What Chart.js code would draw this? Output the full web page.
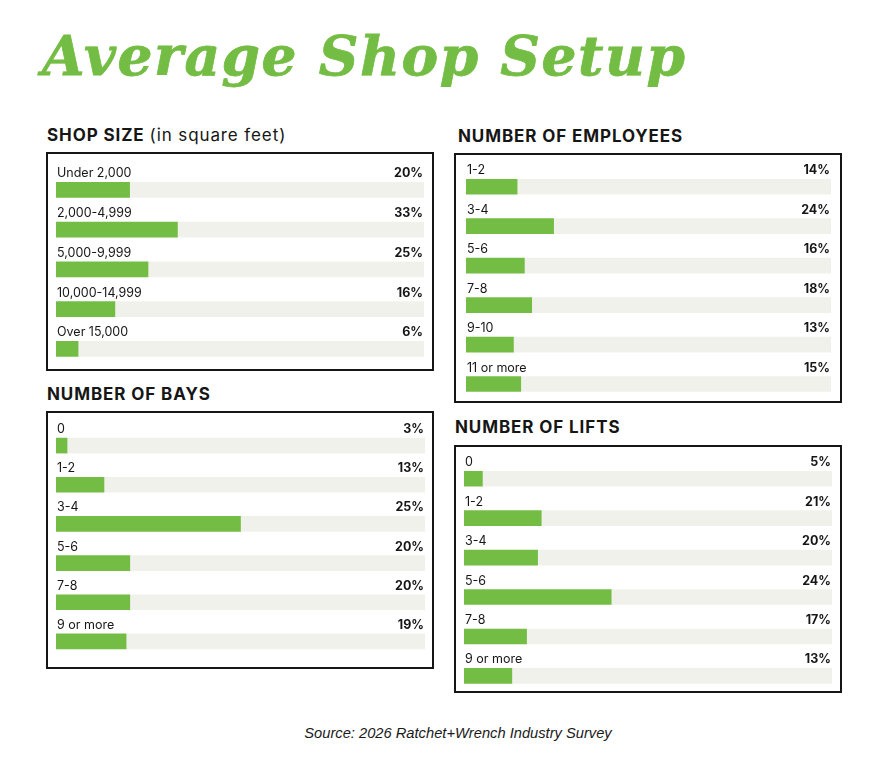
<!DOCTYPE html>
<html>
<head>
<meta charset="utf-8">
<script src="https://cdn.jsdelivr.net/npm/chart.js@4.4.1/dist/chart.umd.min.js"></script>
<style>
  html, body { margin: 0; padding: 0; background: #ffffff; }
  body { width: 894px; height: 780px; position: relative; overflow: hidden; }
  .title { position: absolute; left: 42px; top: 28px; font-family: "DejaVu Serif", serif; font-weight: bold; font-style: italic; font-size: 55px; line-height: 55px; color: #74bd44; white-space: nowrap; -webkit-text-stroke: 0.8px #74bd44; }
  .head { position: absolute; font-family: Inter, "Noto Sans", sans-serif; font-weight: 700; font-size: 17px; line-height: 17px; letter-spacing: 0.9px; color: #161616; white-space: nowrap; }
  .head span { font-weight: 400; }
  .box { position: absolute; border: 2px solid #161616; box-sizing: border-box; }
  canvas.panel { position: absolute; }
  .source { position: absolute; left: 0; width: 916px; text-align: center; top: 726px; font-family: "Liberation Sans", Arial, sans-serif; font-style: italic; font-size: 14.7px; line-height: 14px; color: #1a1a1a; }
</style>
</head>
<body>
<div class="title" id="title">Average Shop Setup</div>

<div class="head" style="left:47px; top:127px;">SHOP SIZE <span>(in square feet)</span></div>
<div class="head" style="left:458px; top:128px;">NUMBER OF EMPLOYEES</div>
<div class="head" style="left:47px; top:386px;">NUMBER OF BAYS</div>
<div class="head" style="left:455px; top:419px;">NUMBER OF LIFTS</div>

<div class="box" style="left:46px; top:152px; width:388px; height:219px;"></div>
<div class="box" style="left:454px; top:153px; width:388px; height:250px;"></div>
<div class="box" style="left:46px; top:411px; width:388px; height:258px;"></div>
<div class="box" style="left:454px; top:445px; width:388px; height:248px;"></div>

<canvas id="shop" class="panel"></canvas>
<canvas id="emp" class="panel"></canvas>
<canvas id="bays" class="panel"></canvas>
<canvas id="lifts" class="panel"></canvas>

<div class="source">Source: 2026 Ratchet+Wrench Industry Survey</div>

<script>
// ---- Data ----
const shopCategories = ['Under 2,000', '2,000-4,999', '5,000-9,999', '10,000-14,999', 'Over 15,000'];
const shopValues = [20, 33, 25, 16, 6];
const shopPctLabels = ['20%', '33%', '25%', '16%', '6%'];

const employeeCategories = ['1-2', '3-4', '5-6', '7-8', '9-10', '11 or more'];
const employeeValues = [14, 24, 16, 18, 13, 15];
const employeePctLabels = ['14%', '24%', '16%', '18%', '13%', '15%'];

const bayCategories = ['0', '1-2', '3-4', '5-6', '7-8', '9 or more'];
const bayBarValues = [3, 13, 50, 20, 20, 19];   // bar lengths as drawn
const bayPctLabels = ['3%', '13%', '25%', '20%', '20%', '19%'];

const liftCategories = ['0', '1-2', '3-4', '5-6', '7-8', '9 or more'];
const liftBarValues = [5, 21, 20, 40, 17, 13];  // bar lengths as drawn
const liftPctLabels = ['5%', '21%', '20%', '24%', '17%', '13%'];

// ---- Title width fit ----
(function () {
  const t = document.getElementById('title');
  const target = 643;
  const w = t.getBoundingClientRect().width;
  const n = t.textContent.length - 1;
  t.style.letterSpacing = ((target - w) / n) + 'px';
})();

// ---- Styling ----
const GREEN = '#74bd44';
const TRACK = '#f1f1ec';
const INK = '#161616';

const labelPlugin = {
  id: 'rowLabels',
  afterDatasetsDraw(chart) {
    const ctx = chart.ctx;
    const meta = chart.getDatasetMeta(0);
    const pct = chart.options.plugins.rowLabels.pct;
    const area = chart.chartArea;
    ctx.save();
    ctx.fillStyle = INK;
    ctx.textBaseline = 'alphabetic';
    meta.data.forEach((el, i) => {
      const top = el.y - el.height / 2;
      const yText = top - 5;
      ctx.font = '400 12.5px Inter, "Noto Sans", sans-serif';
      ctx.textAlign = 'left';
      ctx.fillText(chart.data.labels[i], area.left + 1, yText);
      ctx.font = '700 12.5px Inter, "Noto Sans", sans-serif';
      ctx.textAlign = 'right';
      ctx.fillText(pct[i], area.right - 1, yText);
    });
    ctx.restore();
  }
};

function makePanel(id, cats, vals, pct, geo) {
  const padTop = 22;
  const n = cats.length;
  const canvas = document.getElementById(id);
  const h = Math.round(padTop + n * geo.pitch);
  const w = geo.boxW;
  canvas.width = w; canvas.height = h;
  canvas.style.width = w + 'px'; canvas.style.height = h + 'px';
  canvas.style.left = geo.boxX + 'px';
  canvas.style.top = (geo.chartTop - padTop) + 'px';
  const track = vals.map(v => 100 - v);
  new Chart(canvas, {
    type: 'bar',
    data: {
      labels: cats,
      datasets: [
        { data: vals, backgroundColor: GREEN, barThickness: 15, borderWidth: 0 },
        { data: track, backgroundColor: TRACK, barThickness: 15, borderWidth: 0 }
      ]
    },
    options: {
      indexAxis: 'y',
      responsive: false,
      animation: false,
      devicePixelRatio: 1,
      layout: { padding: { top: padTop, bottom: h - padTop - n * geo.pitch, left: geo.trackL - geo.boxX, right: geo.boxX + geo.boxW - geo.trackR } },
      scales: {
        x: { stacked: true, min: 0, max: 100, display: false },
        y: { stacked: true, display: false }
      },
      plugins: { legend: { display: false }, tooltip: { enabled: false }, title: { display: false }, rowLabels: { pct: pct } }
    },
    plugins: [labelPlugin]
  });
}

makePanel('shop', shopCategories, shopValues, shopPctLabels,
  { boxX: 46, boxW: 388, trackL: 56, trackR: 424, chartTop: 169.6, pitch: 39.75 });
makePanel('emp', employeeCategories, employeeValues, employeePctLabels,
  { boxX: 454, boxW: 388, trackL: 466, trackR: 831, chartTop: 166.5, pitch: 39.46 });
makePanel('bays', bayCategories, bayBarValues, bayPctLabels,
  { boxX: 46, boxW: 388, trackL: 56, trackR: 425, chartTop: 425.9, pitch: 39.2 });
makePanel('lifts', liftCategories, liftBarValues, liftPctLabels,
  { boxX: 454, boxW: 388, trackL: 464, trackR: 832, chartTop: 458.6, pitch: 39.44 });
</script>
</body>
</html>
